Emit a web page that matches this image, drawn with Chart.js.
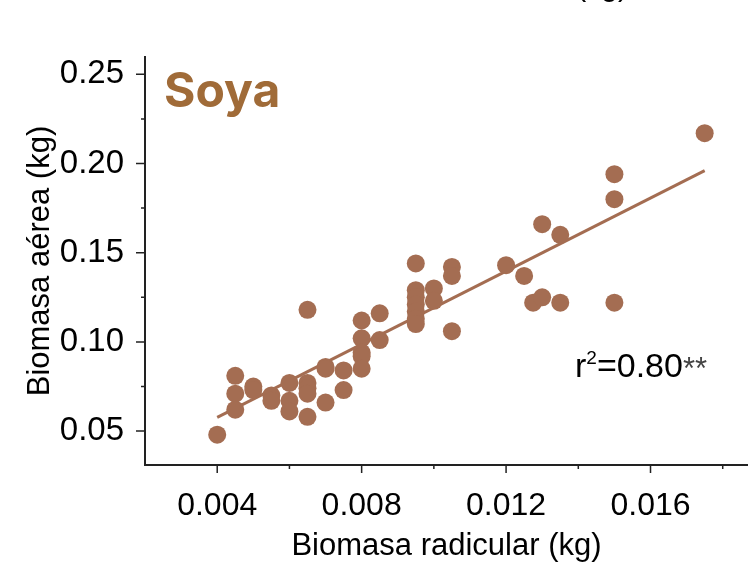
<!DOCTYPE html>
<html>
<head>
<meta charset="utf-8">
<script src="https://cdn.jsdelivr.net/npm/chart.js@4/dist/chart.umd.min.js"></script>
<style>
  body { margin: 0; background: #fff; }
  canvas { display: block; }
</style>
</head>
<body>
<canvas id="soya-chart" width="748" height="565"></canvas>
<script>
// raw data (kg)
const radicular = [
  0.0040,
  0.0045, 0.0045, 0.0045,
  0.0050, 0.0050,
  0.0055, 0.0055,
  0.0060, 0.0060, 0.0060,
  0.0065, 0.0065, 0.0065, 0.0065, 0.0065,
  0.0070, 0.0070, 0.0070,
  0.0075, 0.0075,
  0.0080, 0.0080, 0.0080, 0.0080, 0.0080,
  0.0085, 0.0085,
  0.0095, 0.0095, 0.0095, 0.0095, 0.0095, 0.0095, 0.0095,
  0.0100, 0.0100,
  0.0105, 0.0105, 0.0105,
  0.0120, 0.0125, 0.01275, 0.0130, 0.0130, 0.0135, 0.0135,
  0.0150, 0.0150, 0.0150,
  0.0175
];
const aerea = [
  0.048,
  0.081, 0.071, 0.062,
  0.075, 0.073,
  0.070, 0.067,
  0.077, 0.067, 0.061,
  0.118, 0.077, 0.074, 0.071, 0.058,
  0.086, 0.085, 0.066,
  0.084, 0.073,
  0.112, 0.102, 0.094, 0.092, 0.085,
  0.116, 0.101,
  0.144, 0.129, 0.125, 0.121, 0.117, 0.113, 0.110,
  0.130, 0.123,
  0.142, 0.137, 0.106,
  0.143, 0.137, 0.122, 0.125, 0.166, 0.160, 0.122,
  0.194, 0.180, 0.122,
  0.217
];

// fitted line end points
const fitX = [0.0040, 0.0175];
const fitY = [0.0577, 0.1960];

// axis ticks
const xMajor = [0.004, 0.008, 0.012, 0.016];
const xMinor = [0.006, 0.010, 0.014, 0.018];
const yMajor = [0.05, 0.10, 0.15, 0.20, 0.25];
const yMinor = [0.075, 0.125, 0.175, 0.225];

const brown = '#a46d52';
const axisFont = '"Liberation Sans", Arial, sans-serif';

const points = radicular.map((x, i) => ({ x: x, y: aerea[i] }));
const fitLine = fitX.map((x, i) => ({ x: x, y: fitY[i] }));

// tick marks (long majors, short minors) + free texts
const extras = {
  id: 'extras',
  afterDraw(chart) {
    const c = chart.ctx;
    const xs = chart.scales.x;
    const ys = chart.scales.y;
    const area = chart.chartArea;
    c.save();
    c.strokeStyle = '#222';
    c.lineWidth = 1.5;
    c.beginPath();
    xMajor.forEach(v => { const p = xs.getPixelForValue(v); c.moveTo(p, area.bottom); c.lineTo(p, area.bottom + 8); });
    xMinor.forEach(v => { const p = xs.getPixelForValue(v); c.moveTo(p, area.bottom); c.lineTo(p, area.bottom + 4); });
    yMajor.forEach(v => { const p = ys.getPixelForValue(v); c.moveTo(area.left, p); c.lineTo(area.left - 9, p); });
    yMinor.forEach(v => { const p = ys.getPixelForValue(v); c.moveTo(area.left, p); c.lineTo(area.left - 4, p); });
    c.stroke();

    // panel name
    c.fillStyle = '#a06b38';
    c.font = 'bold 48px Inter';
    c.textBaseline = 'alphabetic';
    c.fillText('Soya', 164, 107);

    // r2 annotation
    const x0 = 575, base = 377;
    c.fillStyle = '#000';
    c.font = '34px ' + axisFont;
    c.fillText('r', x0, base);
    let w = c.measureText('r').width;
    c.font = '19px ' + axisFont;
    c.fillText('2', x0 + w, base - 13);
    w += c.measureText('2').width;
    c.font = '34px ' + axisFont;
    c.fillText('=0.80', x0 + w, base);
    w += c.measureText('=0.80').width;
    c.fillStyle = '#444';
    c.font = '31px ' + axisFont;
    c.fillText('**', x0 + w, base + 2);

    // bit of the panel above, cut by the top edge
    c.fillStyle = '#000';
    c.font = '30px ' + axisFont;
    c.textAlign = 'right';
    c.fillText('(kg)', 628, -4);
    c.restore();
  }
};

const ctx = document.getElementById('soya-chart').getContext('2d');
new Chart(ctx, {
  type: 'scatter',
  data: {
    datasets: [{
      label: 'Soya',
      data: points,
      backgroundColor: brown,
      borderWidth: 0,
      pointRadius: 9,
      order: 0
    }, {
      type: 'line',
      label: 'ajuste',
      data: fitLine,
      borderColor: brown,
      borderWidth: 3,
      pointRadius: 0,
      fill: false,
      order: 1
    }]
  },
  options: {
    responsive: false,
    animation: false,
    layout: { autoPadding: false, padding: { top: 57, right: 0, bottom: 0, left: 0 } },
    plugins: {
      legend: { display: false },
      tooltip: { enabled: false }
    },
    scales: {
      x: {
        type: 'linear',
        min: 0.002,
        max: 0.0187,
        afterFit: s => { s.height = 100; },
        afterBuildTicks: s => { s.ticks = xMajor.map(v => ({ value: v })); },
        grid: { display: false },
        border: { display: true, color: '#222', width: 2 },
        ticks: {
          padding: 14,
          color: '#000',
          font: { family: axisFont, size: 32 },
          callback: v => v.toFixed(3)
        },
        title: {
          display: true,
          text: 'Biomasa radicular (kg)',
          color: '#000',
          font: { family: axisFont, size: 31 },
          padding: { top: 0, bottom: 0 }
        }
      },
      y: {
        type: 'linear',
        min: 0.031,
        max: 0.2597,
        afterFit: s => { s.width = 145; },
        afterBuildTicks: s => { s.ticks = yMajor.map(v => ({ value: v })); },
        grid: { display: false },
        border: { display: true, color: '#222', width: 2 },
        ticks: {
          padding: 13,
          color: '#000',
          font: { family: axisFont, size: 33 },
          callback: v => v.toFixed(2)
        },
        title: {
          display: true,
          text: 'Biomasa aérea (kg)',
          color: '#000',
          font: { family: axisFont, size: 31 },
          padding: { top: 22, bottom: 0 }
        }
      }
    }
  },
  plugins: [extras]
});
</script>
</body>
</html>
